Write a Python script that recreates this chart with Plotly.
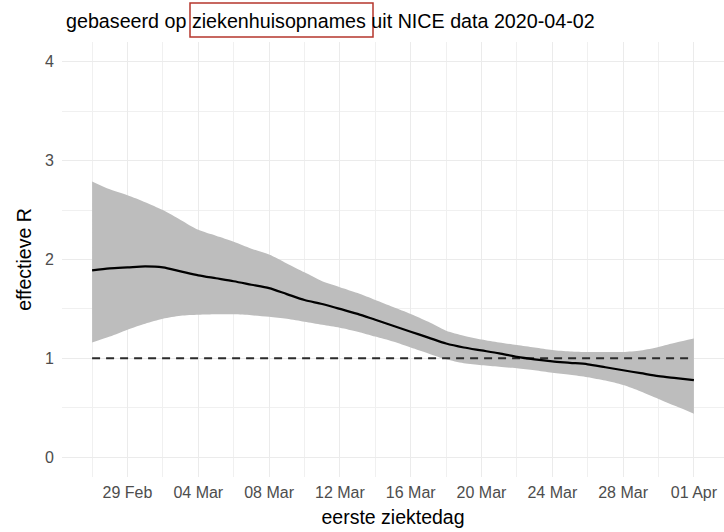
import pandas as pd
import plotly.graph_objects as go

# ---- data ----
dates = pd.date_range("2020-02-27", "2020-04-01", freq="D")

r_upper = [2.79, 2.71, 2.65, 2.58, 2.50, 2.40, 2.30, 2.24, 2.18, 2.11,
           2.05, 1.96, 1.87, 1.78, 1.72, 1.66, 1.59, 1.52, 1.45, 1.37,
           1.28, 1.23, 1.19, 1.16, 1.135, 1.11, 1.085, 1.07, 1.065, 1.065,
           1.065, 1.08, 1.115, 1.16, 1.20]
r_mid = [1.89, 1.91, 1.92, 1.93, 1.92, 1.88, 1.84, 1.81, 1.78, 1.745,
         1.71, 1.65, 1.59, 1.55, 1.50, 1.45, 1.39, 1.33, 1.27, 1.21,
         1.15, 1.11, 1.08, 1.05, 1.015, 0.99, 0.97, 0.955, 0.94, 0.91,
         0.88, 0.85, 0.82, 0.80, 0.78]
r_lower = [1.16, 1.22, 1.29, 1.35, 1.40, 1.43, 1.44, 1.445, 1.445, 1.435,
           1.42, 1.40, 1.37, 1.34, 1.31, 1.27, 1.22, 1.17, 1.11, 1.05,
           0.99, 0.95, 0.93, 0.915, 0.90, 0.88, 0.855, 0.835, 0.81, 0.775,
           0.73, 0.665, 0.59, 0.515, 0.44]
r_ref = 1.0

title_text = "gebaseerd op ziekenhuisopnames uit NICE data 2020-04-02"
x_title = "eerste ziektedag"
y_title = "effectieve R"

FONT = "Liberation Sans, Arial, Helvetica, sans-serif"
DAY = 86400000

fig = go.Figure()
fig.add_trace(go.Scatter(x=dates, y=r_upper, mode="lines",
                         line=dict(width=0, shape="spline", smoothing=0.8),
                         hoverinfo="skip", showlegend=False))
fig.add_trace(go.Scatter(x=dates, y=r_lower, mode="lines",
                         line=dict(width=0, shape="spline", smoothing=0.8),
                         fill="tonexty", fillcolor="#bdbdbd", showlegend=False))
fig.add_trace(go.Scatter(x=[dates[0], dates[-1]], y=[r_ref, r_ref], mode="lines",
                         line=dict(color="#2b2b2b", width=2, dash="8px,6px"),
                         showlegend=False))
fig.add_trace(go.Scatter(x=dates, y=r_mid, mode="lines",
                         line=dict(color="black", width=2.2, shape="spline", smoothing=0.8),
                         showlegend=False))

pad = pd.Timedelta(days=1.7)
fig.update_layout(
    width=724, height=532,
    margin=dict(l=62, r=0, t=42, b=55),
    plot_bgcolor="white", paper_bgcolor="white",
    font=dict(family=FONT, color="black"),
    title=dict(text=title_text, x=66 / 724, xanchor="left", xref="container",
               y=1 - 21 / 532, yanchor="middle", yref="container",
               font=dict(size=19.7, color="black")),
    xaxis=dict(type="date", range=[dates[0] - pad, dates[-1] + pad],
               tick0="2020-02-29", dtick=4 * DAY, tickformat="%d %b",
               tickfont=dict(size=16, color="#4d4d4d"), ticklabelstandoff=4,
               showgrid=True, gridcolor="#ebebeb", gridwidth=1,
               minor=dict(tick0="2020-02-27", dtick=2 * DAY, showgrid=True,
                          gridcolor="#f0f0f0", gridwidth=1),
               zeroline=False, showline=False, ticks="",
               title=dict(text=x_title, font=dict(size=19.5), standoff=10),
               automargin=False),
    yaxis=dict(range=[-0.2, 4.2], tick0=0, dtick=1,
               tickfont=dict(size=16, color="#4d4d4d"), ticklabelstandoff=7,
               showgrid=True, gridcolor="#ebebeb", gridwidth=1,
               minor=dict(dtick=0.5, showgrid=True, gridcolor="#f0f0f0", gridwidth=1),
               zeroline=False, showline=False, ticks="",
               title=dict(text=y_title, font=dict(size=19.5), standoff=8),
               automargin=False),
    shapes=[dict(type="rect", xref="paper", yref="paper",
                 x0=(190 - 62) / 662, x1=(373 - 62) / 662,
                 y0=(477 - 37) / 435, y1=(477 - 3) / 435,
                 line=dict(color="#b5362c", width=1.5), layer="above")],
)

fig.write_html("out.html", config={"displayModeBar": False},
               post_script="document.body.style.margin='0';document.body.style.overflow='hidden';")
